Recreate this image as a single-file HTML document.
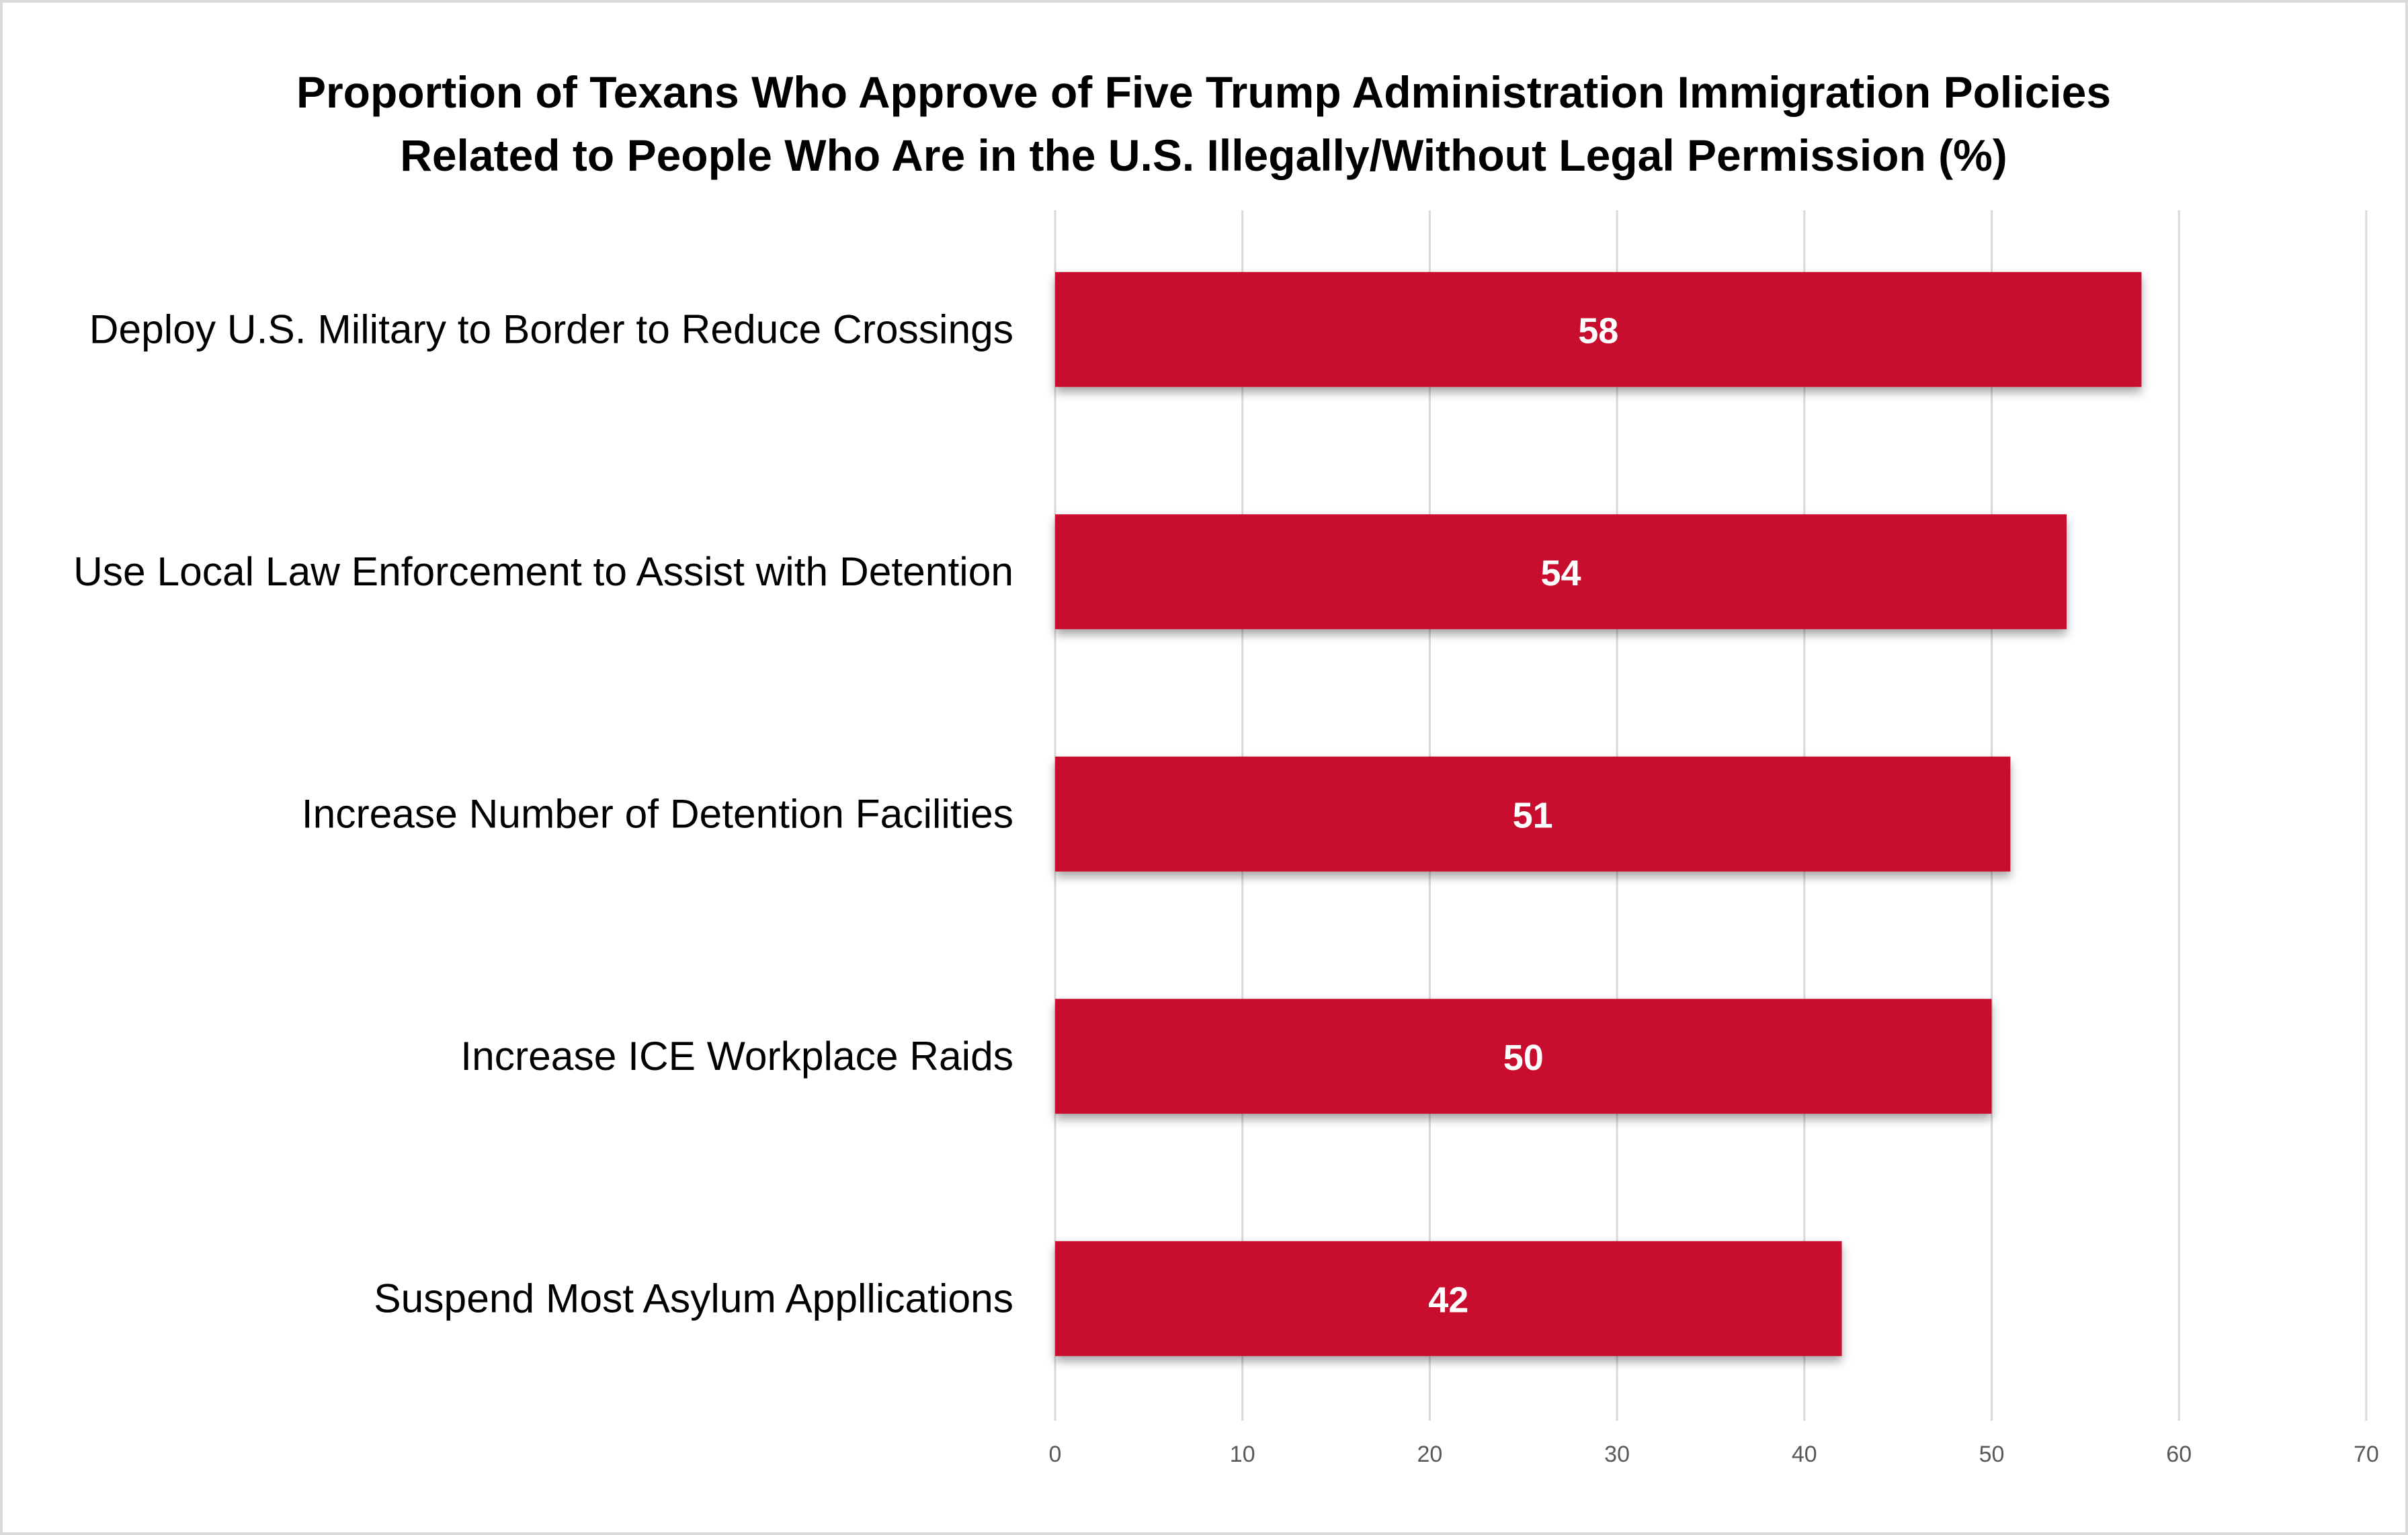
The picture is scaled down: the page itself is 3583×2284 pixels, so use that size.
<!DOCTYPE html>
<html><head><meta charset="utf-8"><style>
body{margin:0;background:#fff;}
svg{display:block;font-family:"Liberation Sans",Carlito,sans-serif;}
</style></head><body>
<svg id="chart" width="3583" height="2284" viewBox="0 0 3583 2284">
<defs><filter id="sh" x="-5%" y="-20%" width="110%" height="160%"><feDropShadow dx="0" dy="8" stdDeviation="7" flood-color="#000" flood-opacity="0.35"/></filter></defs>
<rect x="2" y="2" width="3579" height="2280" fill="#fff" stroke="#d9d9d9" stroke-width="4"/>
<text x="1791" y="160" text-anchor="middle" font-size="66" font-weight="bold" fill="#000">Proportion of Texans Who Approve of Five Trump Administration Immigration Policies</text>
<text x="1791" y="254" text-anchor="middle" font-size="66" font-weight="bold" fill="#000">Related to People Who Are in the U.S. Illegally/Without Legal Permission (%)</text>
<g id="grid"></g><g id="bars"></g><g id="labels"></g>
</svg>
<script>
const categories=["Deploy U.S. Military to Border to Reduce Crossings","Use Local Law Enforcement to Assist with Detention","Increase Number of Detention Facilities","Increase ICE Workplace Raids","Suspend Most Asylum Appllications"];
const values=[58,54,51,50,42];
const ticks=[0,10,20,30,40,50,60,70];
const NS="http://www.w3.org/2000/svg";
const x0=1570,pxPer=27.87,top0=310,step=360.5,barH=171,gridBottom=2114;
const xs=v=>x0+v*pxPer;
const yc=i=>top0+step*(i+0.5);
function mk(t,a,p){const e=document.createElementNS(NS,t);for(const k in a)e.setAttribute(k,a[k]);p.appendChild(e);return e;}
const g=document.getElementById('grid'),b=document.getElementById('bars'),l=document.getElementById('labels');
ticks.forEach(t=>{
 const ln=mk('line',{x1:xs(t),x2:xs(t),y1:313,y2:gridBottom,stroke:'#d9d9d9','stroke-width':3},g);
 
 
 const tx=mk('text',{x:xs(t),y:2175,'text-anchor':'middle','font-size':34,fill:'#595959'},g);
 tx.textContent=t;
 
 
});
categories.forEach((c,i)=>{
 const y=yc(i);
 const r=mk('rect',{x:x0,y:y-barH/2,width:xs(values[i])-x0,height:barH,fill:'#c8102e',filter:'url(#sh)'},b);
 
 
 const v=mk('text',{x:(x0+xs(values[i]))/2,y:y+20,'text-anchor':'middle','font-size':54,'font-weight':'bold',fill:'#fff'},l);
 v.textContent=values[i];
 
 
 const cl=mk('text',{x:1508,y:y+20,'text-anchor':'end','font-size':60.5,fill:'#000'},l);
 cl.textContent=c;
 
 
});
</script>
</body></html>
